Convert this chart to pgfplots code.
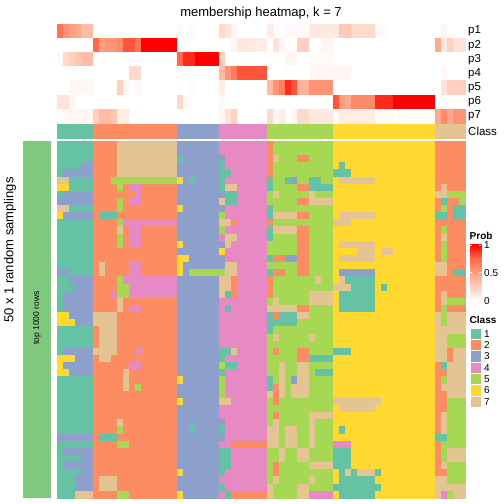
\documentclass[border=0pt]{standalone}
\usepackage{pgfplots}
\pgfplotsset{compat=1.18}
\usepackage{pgfplotstable}
\usepackage{fontspec}
\setmainfont{Liberation Sans}

\definecolor{c1}{RGB}{102,194,165}
\definecolor{c2}{RGB}{252,141,98}
\definecolor{c3}{RGB}{141,160,203}
\definecolor{c4}{RGB}{231,138,195}
\definecolor{c5}{RGB}{166,216,84}
\definecolor{c6}{RGB}{255,217,47}
\definecolor{c7}{RGB}{229,196,148}
\definecolor{rowann}{RGB}{127,201,127}
\definecolor{pq1}{RGB}{255,207,191}
\definecolor{pq2}{RGB}{255,158,129}
\definecolor{pq3}{RGB}{255,105,71}

\pgfdeclareplotmark{cellmain}{\pgfpathrectangle{\pgfpoint{-3pt}{-3.57pt}}{\pgfpoint{6pt}{7.14pt}}\pgfusepathqfillstroke}
\pgfdeclareplotmark{celltop}{\pgfpathrectangle{\pgfpoint{-3pt}{-7.071pt}}{\pgfpoint{6pt}{14.142pt}}\pgfusepathqfillstroke}
\pgfdeclareplotmark{cellcls}{\pgfpathrectangle{\pgfpoint{-3pt}{-7pt}}{\pgfpoint{6pt}{14pt}}\pgfusepathqfillstroke}

% main membership matrix: row index, then 68 sample columns (class 1..7)
\pgfplotstableread[header=false]{
0  1 1 1 1 1 1  2 2 2 2 7 7 7 7 7 7 7 7 7 7  3 3 3 3 3 3 3  4 4 4 4 4 4 4 4  2 5 5 5 5 5 5 5 5 5 5  6 6 6 6 6 6 6 6 6 6 6 6 6 6 6 6 6  2 2 2 2 2
1  1 1 1 1 1 1  2 2 2 2 7 7 7 7 7 7 7 7 7 7  3 3 3 3 3 3 3  4 4 4 4 4 4 4 4  2 5 5 5 5 5 5 5 5 5 5  6 6 6 6 6 6 6 6 6 6 6 6 6 6 6 6 6  2 2 2 2 2
2  1 1 1 1 1 1  2 2 2 2 7 7 7 7 7 7 7 7 7 7  1 3 3 3 3 3 3  3 4 4 4 4 4 4 4  2 7 5 5 5 2 2 5 5 5 5  6 6 6 6 6 6 6 6 6 6 6 6 6 6 6 6 6  2 2 2 2 2
3  1 1 1 1 3 3  2 2 2 2 7 7 7 7 7 7 7 7 7 7  3 3 3 3 3 3 3  1 4 4 4 4 4 4 4  2 5 5 5 5 5 5 5 5 5 5  6 1 6 6 6 6 6 6 6 6 6 6 6 6 6 6 6  2 2 2 2 2
4  1 3 3 3 3 3  2 2 2 2 7 7 7 7 7 7 7 7 7 7  3 3 3 3 3 3 3  1 1 4 4 4 4 4 4  2 5 5 5 5 5 5 5 5 5 5  1 1 1 6 6 6 6 6 6 6 6 6 6 6 6 6 6  2 2 2 2 2
5  7 7 1 1 1 1  2 2 2 5 5 5 5 5 5 5 5 5 5 5  6 3 1 3 3 3 3  1 4 4 4 4 4 4 4  1 5 5 1 3 5 5 1 1 5 5  6 7 7 7 7 7 7 6 6 6 6 6 6 6 6 6 6  2 2 2 2 2
6  6 6 1 1 1 1  2 2 2 2 5 2 4 4 2 2 2 2 2 2  3 3 3 3 3 3 3  1 7 7 4 4 4 4 4  1 5 5 5 5 2 2 1 1 1 1  6 6 6 6 6 6 6 6 6 6 6 6 6 6 6 6 6  2 7 2 2 2
7  1 3 3 3 3 3  2 2 2 2 2 2 2 4 2 2 2 2 2 2  3 3 3 3 3 3 3  3 1 1 4 4 4 4 4  5 7 5 5 5 5 5 7 5 5 5  6 6 6 6 6 6 6 6 6 6 6 6 6 6 6 6 6  7 7 5 5 5
8  3 3 3 3 3 3  2 2 2 2 5 2 4 4 2 2 2 2 2 2  3 3 3 3 3 3 3  7 1 1 4 4 4 4 4  5 5 5 5 5 2 2 7 7 7 7  6 6 6 6 6 6 6 6 6 6 6 6 6 6 6 6 6  2 1 2 2 5
9  7 7 1 1 1 1  2 2 2 2 5 2 2 2 2 2 2 2 2 2  6 3 3 3 3 3 3  3 4 4 4 4 4 4 4  1 5 5 5 5 5 5 5 5 5 5  6 6 6 6 6 6 6 6 6 6 6 6 6 6 6 6 6  2 5 2 1 1
10  6 3 3 3 3 3  2 1 1 1 2 2 2 2 2 2 2 2 2 2  3 3 3 3 3 3 3  5 4 4 4 4 4 4 4  1 7 7 7 7 2 2 5 5 5 5  6 7 7 7 7 7 7 6 6 6 6 6 6 6 6 6 6  1 1 2 1 1
11  1 1 1 1 1 1  2 2 2 2 5 4 4 4 4 4 4 4 4 4  3 3 3 3 3 3 3  7 7 2 4 4 4 4 4  2 5 5 5 5 5 5 5 5 5 5  7 7 7 6 6 6 6 6 6 6 6 6 6 6 6 6 6  2 2 2 2 2
12  1 1 1 1 1 1  2 2 2 2 7 2 4 4 2 2 2 2 2 2  3 3 3 3 3 3 3  5 4 4 4 4 4 4 4  1 7 7 7 7 2 2 5 5 5 5  6 6 6 6 6 6 6 6 6 6 6 6 6 6 6 6 6  2 5 2 2 2
13  1 1 1 1 1 1  2 2 2 2 5 2 4 4 2 2 2 2 2 2  3 3 3 3 3 3 3  4 7 7 4 4 4 4 4  1 5 5 5 5 2 2 5 5 5 5  6 6 6 6 6 6 6 6 6 6 6 6 6 6 6 6 6  2 7 2 2 2
14  1 1 1 1 1 1  2 2 2 2 5 2 4 4 2 2 2 2 2 2  6 3 3 3 3 3 3  3 7 4 4 4 4 4 4  5 5 5 5 5 2 2 5 5 5 5  6 7 7 7 7 7 7 6 6 6 6 6 6 6 6 6 6  2 5 2 2 2
15  1 1 1 1 1 1  2 2 2 2 2 2 2 2 2 2 2 2 2 2  3 3 3 3 3 3 3  6 4 4 4 4 4 4 4  5 5 5 5 5 2 2 5 5 5 5  6 6 6 6 7 7 7 6 7 7 6 6 6 6 6 6 6  2 5 2 2 2
16  1 1 1 1 1 1  2 2 2 2 2 2 2 2 2 2 2 2 2 2  6 6 3 3 3 3 3  3 4 4 4 4 4 4 4  1 2 2 3 3 2 2 5 5 5 5  6 7 7 7 7 7 7 6 6 6 6 6 6 6 6 6 6  2 5 2 2 2
17  1 1 1 1 1 1  2 7 2 2 2 2 4 4 2 2 2 2 2 2  6 3 3 3 3 3 3  3 7 7 4 4 4 4 4  5 5 5 5 5 2 2 5 5 5 5  6 6 6 6 6 6 6 6 6 6 6 6 6 6 6 6 6  7 7 2 2 2
18  3 3 1 1 1 1  2 7 2 2 2 2 4 4 2 2 2 2 2 2  6 3 5 5 5 5 5  5 7 7 4 4 4 4 4  1 2 2 5 5 2 2 5 5 5 5  6 3 3 3 3 3 3 6 6 6 6 6 6 6 6 6 6  7 7 2 1 1
19  1 1 3 3 3 3  2 2 2 2 5 4 4 4 4 4 4 4 4 4  3 3 3 3 3 3 3  7 7 2 4 4 4 4 4  2 5 5 5 5 5 5 5 7 5 5  6 7 1 1 1 1 1 6 6 6 6 6 6 6 6 6 6  2 2 2 2 2
20  1 1 1 3 3 3  2 2 2 2 5 5 4 4 4 4 4 4 4 4  3 3 3 3 3 3 3  7 7 2 4 4 4 4 4  2 5 5 5 5 5 5 5 5 5 5  7 7 7 1 1 1 1 6 1 6 6 6 6 6 6 6 6  2 2 2 2 2
21  1 3 3 3 3 3  2 2 2 4 5 5 4 4 4 4 4 4 4 4  3 3 3 3 3 3 3  7 1 2 4 4 4 4 4  2 5 5 5 5 5 5 7 7 7 7  6 1 1 1 1 1 1 6 6 6 6 6 6 6 6 6 6  2 7 2 2 2
22  1 3 3 3 3 3  2 2 2 2 7 2 2 2 2 2 2 2 2 2  3 3 3 3 3 3 3  4 4 4 4 4 4 4 4  5 7 5 5 5 5 5 7 7 7 7  6 1 1 1 1 1 1 6 6 6 6 6 6 6 6 6 6  2 7 5 5 5
23  1 3 3 3 3 3  2 2 2 2 7 2 4 4 2 2 2 2 2 2  3 3 3 3 3 3 3  4 1 4 4 4 4 4 4  7 7 7 7 7 2 2 5 5 5 5  6 1 1 1 1 1 1 6 6 6 6 6 6 6 6 6 6  2 5 2 2 2
24  6 6 3 3 3 3  7 7 7 7 2 2 2 2 2 2 2 2 2 2  3 3 3 3 3 3 3  4 4 4 4 4 4 4 4  1 2 1 1 1 7 7 5 5 5 5  6 6 6 6 6 6 6 6 6 6 6 6 6 6 6 6 6  7 5 7 7 7
25  6 6 6 3 3 3  7 7 7 7 2 2 2 2 2 2 2 2 2 2  3 3 3 3 3 3 3  4 4 4 4 4 4 4 4  1 1 1 1 1 5 5 5 5 5 5  6 6 6 6 6 6 6 6 6 6 6 6 6 6 6 6 6  7 5 7 7 7
26  1 1 1 1 1 1  2 7 7 7 2 2 2 2 2 2 2 2 2 2  3 3 3 3 3 3 3  4 4 4 4 4 4 4 4  1 5 5 5 5 5 5 5 5 5 5  6 6 6 6 6 6 6 6 6 6 6 6 6 6 6 6 6  7 7 7 7 7
27  1 1 1 1 1 1  2 7 7 7 2 2 2 2 2 2 2 2 2 2  3 3 3 3 3 3 3  4 4 4 4 4 4 4 4  5 7 5 5 5 5 5 7 5 5 5  6 6 6 6 6 6 6 6 6 6 6 6 6 6 6 6 6  7 7 5 5 5
28  1 1 1 1 1 1  2 7 7 7 2 2 2 2 2 2 2 2 2 2  3 3 3 3 3 3 3  4 4 4 4 4 4 4 4  5 5 5 5 5 5 5 5 5 5 5  6 6 6 6 6 6 6 6 6 6 6 6 6 6 6 6 6  7 7 5 5 5
29  1 3 3 3 3 3  7 7 7 7 2 2 2 4 2 2 2 2 2 2  3 3 3 3 3 3 3  1 1 7 4 4 4 4 4  5 2 5 5 5 2 2 5 5 5 5  1 1 1 6 6 6 6 6 6 6 6 6 6 6 6 6 6  7 7 2 7 7
30  6 6 6 3 3 3  2 7 7 2 2 2 2 2 2 2 2 2 2 2  3 3 3 3 3 3 3  1 4 4 4 4 4 4 4  5 5 5 5 5 2 2 1 1 1 1  6 6 6 6 6 6 6 6 6 6 6 6 6 6 6 6 6  7 7 2 7 7
31  6 3 3 3 3 3  2 2 2 2 2 2 4 4 2 2 2 2 2 2  3 3 3 3 3 3 3  5 1 1 4 4 4 4 4  5 5 7 5 5 7 7 5 5 5 5  6 6 6 6 6 6 6 6 6 6 6 6 6 6 6 6 6  2 1 7 7 7
32  6 6 3 3 3 3  2 2 2 2 2 7 2 2 2 2 2 2 2 2  3 3 3 3 3 3 3  1 4 4 4 4 4 4 4  5 5 7 5 5 7 7 5 1 1 1  6 6 6 6 6 6 6 6 6 6 6 6 6 6 6 6 6  2 2 7 7 7
33  1 1 1 1 1 1  2 2 2 2 2 7 2 2 2 2 2 2 2 2  6 3 3 3 3 3 3  5 4 4 4 4 4 4 4  1 5 7 5 3 7 7 5 5 5 5  6 6 6 6 6 6 6 6 6 6 6 6 6 6 6 6 6  2 5 7 7 7
34  1 1 1 1 1 1  2 2 2 2 2 7 2 5 2 2 2 2 2 2  3 3 3 3 3 3 3  5 4 4 4 4 4 4 4  1 2 7 5 7 7 7 5 5 5 5  6 6 6 6 6 6 6 6 6 6 6 6 6 6 6 6 6  2 7 7 7 7
35  1 1 1 1 1 1  2 2 2 2 2 2 2 2 2 2 2 2 2 2  3 3 3 3 3 3 3  5 4 4 4 4 4 4 4  7 2 7 5 7 7 7 5 5 5 5  6 6 6 6 6 6 6 6 6 6 6 6 6 6 6 6 6  2 2 7 7 7
36  1 1 1 1 1 1  2 2 2 2 2 2 2 2 2 2 2 2 2 2  6 3 3 3 3 3 3  7 7 4 4 4 4 4 4  5 2 5 5 5 5 5 5 5 5 5  7 7 7 7 7 7 7 7 6 6 6 6 6 6 6 6 6  2 2 5 5 5
37  1 1 1 1 1 1  2 2 2 2 2 2 2 2 2 2 2 2 2 2  3 3 3 3 3 3 3  4 4 4 4 4 4 4 4  5 5 5 5 5 5 5 5 5 5 5  6 7 7 7 7 7 7 6 6 6 6 6 6 6 6 6 6  2 2 5 5 5
38  1 1 1 1 1 1  2 2 2 2 2 2 2 2 2 2 2 2 2 2  3 3 3 3 3 3 3  4 4 4 4 4 4 4 4  5 2 5 5 5 5 5 7 7 7 7  6 6 6 6 6 6 6 6 6 6 6 6 6 6 6 6 6  2 7 5 5 5
39  1 1 1 1 1 1  2 2 2 2 7 2 2 2 2 2 2 2 2 2  3 3 3 3 3 3 3  3 4 4 4 4 4 4 4  5 7 5 5 5 5 5 7 5 5 5  6 6 6 6 6 6 6 6 6 6 6 6 6 6 6 6 6  2 7 5 5 5
40  1 1 1 1 1 1  2 2 2 2 5 2 2 2 2 2 2 2 2 2  3 3 1 3 3 3 3  1 4 4 4 4 4 4 4  7 7 5 7 7 5 5 7 5 5 5  6 1 6 6 6 6 6 6 6 6 6 6 6 6 6 6 6  2 7 5 5 5
41  3 3 3 3 3 3  2 1 1 1 2 2 2 2 2 2 2 2 2 2  3 3 3 3 3 3 3  3 4 4 4 4 4 4 4  7 7 5 7 7 5 5 7 5 5 5  6 6 6 6 6 6 6 6 6 6 6 6 6 6 6 6 6  1 1 5 5 5
42  1 1 1 1 1 1  2 2 2 2 5 5 2 2 2 2 2 2 2 2  3 3 3 3 3 3 3  4 4 2 2 2 2 2 2  7 7 5 7 7 5 5 7 5 5 5  4 4 4 6 6 6 6 6 6 6 6 6 6 6 6 6 6  2 5 5 5 5
43  1 3 3 3 3 3  2 2 2 2 2 2 2 2 2 2 2 2 2 2  3 3 3 3 3 3 3  1 1 4 4 4 4 4 4  5 5 7 5 5 7 7 5 5 5 5  1 1 1 6 6 6 6 6 6 6 6 6 6 6 6 6 6  2 5 7 7 7
44  1 1 1 1 3 3  2 2 2 2 2 2 2 2 2 2 2 2 2 2  3 3 3 3 3 3 3  1 1 4 4 4 4 4 4  5 5 7 5 5 7 7 5 5 5 5  1 1 1 6 6 6 6 6 6 6 6 6 6 6 6 6 6  2 5 7 7 7
45  1 3 3 3 3 3  2 2 2 2 2 2 2 2 2 2 2 2 2 2  3 3 3 3 3 3 3  1 1 4 4 4 4 4 4  5 2 5 5 5 5 5 7 7 7 7  1 1 1 6 6 6 6 6 6 6 6 6 6 6 6 6 6  2 7 5 5 5
46  1 1 1 1 3 3  2 2 2 2 2 2 2 2 2 2 2 2 2 2  6 3 3 3 3 3 3  1 4 4 4 4 4 4 4  5 2 5 5 5 5 5 5 5 5 5  6 1 7 1 7 7 7 1 6 6 6 6 6 6 6 6 6  2 2 5 5 5
47  1 1 1 3 3 3  2 7 7 7 2 2 2 2 2 2 2 2 2 2  3 3 3 3 3 3 3  4 4 4 4 4 4 4 4  5 7 5 5 5 5 5 7 5 5 5  6 1 1 1 1 1 1 6 6 6 6 6 6 6 6 6 6  7 7 5 5 5
48  1 1 1 3 3 3  2 7 7 7 2 2 2 2 2 2 2 2 2 2  3 3 3 3 3 3 3  1 4 4 4 4 4 4 4  7 5 5 5 5 7 7 5 5 5 5  1 1 1 1 1 1 1 1 6 6 6 6 6 6 6 6 6  7 7 7 7 7
49  1 1 1 7 7 7  2 2 2 2 5 5 2 2 2 2 2 2 2 2  6 3 3 3 3 3 3  4 1 2 2 2 2 2 2  7 5 5 5 5 7 7 4 4 4 4  6 1 1 1 1 1 1 6 6 6 6 6 6 6 6 6 6  7 4 5 7 7
}\mainT

% membership probabilities p1..p7 for the 68 samples
\pgfplotstableread[header=false]{
0  0.7 0.55 0.5 0.45 0.35 0.35  0 0 0 0 0 0 0 0 0 0 0 0 0 0  0.03 0 0.03 0 0 0 0  0.2 0.15 0.05 0 0 0 0 0  0.1 0.03 0 0.03 0.03 0.03 0.03 0.12 0.12 0.12 0.12  0.12 0.28 0.28 0.2 0.2 0.2 0.2 0.03 0.03 0 0 0 0 0 0 0 0  0 0.05 0 0 0
1  0 0 0 0 0 0  0.75 0.5 0.55 0.55 0.6 0.8 0.8 0.7 1 1 1 1 1 1  0 0 0 0 0 0 0  0 0 0.05 0.12 0.12 0.12 0.1 0.1  0 0.15 0.05 0 0 0.25 0.25 0 0 0.05 0.05  0 0 0 0 0 0 0 0 0 0 0 0 0 0 0 0 0  0.45 0.12 0.25 0.15 0.15
2  0.03 0.2 0.25 0.3 0.35 0.35  0 0 0 0 0 0 0 0 0 0 0 0 0 0  0.75 0.9 0.9 1 1 1 1  0.25 0 0 0 0 0 0 0  0 0 0 0.05 0.05 0 0 0.03 0.03 0.03 0.03  0 0 0 0 0 0 0 0 0 0 0 0 0 0 0 0 0  0 0 0 0 0
3  0 0 0 0 0 0  0 0 0 0 0 0 0.2 0.2 0 0 0 0 0 0  0 0 0 0 0 0 0  0.35 0.55 0.65 0.8 0.8 0.8 0.8 0.8  0 0 0 0 0 0 0 0.04 0.04 0.04 0.04  0.05 0.05 0.05 0 0 0 0 0 0 0 0 0 0 0 0 0 0  0 0.04 0 0 0
4  0 0 0.04 0.04 0.04 0.04  0 0 0 0 0.25 0.05 0 0.04 0 0 0 0 0 0  0 0 0.03 0 0 0 0  0.1 0 0 0 0 0 0 0  0.35 0.55 0.65 0.9 0.8 0.4 0.4 0.55 0.55 0.55 0.55  0 0 0 0 0 0 0 0 0 0 0 0 0 0 0 0 0  0 0.15 0.25 0.25 0.25
5  0.15 0.15 0.05 0 0 0  0 0 0 0 0 0 0 0 0 0 0 0 0 0  0.2 0.05 0 0 0 0 0  0.03 0 0 0 0 0 0 0  0 0 0 0 0 0 0 0 0 0 0  0.8 0.5 0.45 0.6 0.6 0.6 0.6 0.9 0.9 0.9 1 1 1 1 1 1 1  0 0 0 0 0
6  0 0.03 0.05 0.05 0.05 0.05  0.25 0.35 0.35 0.3 0.1 0.1 0 0 0 0 0 0 0 0  0 0 0 0 0 0 0  0.05 0.15 0.25 0 0 0 0 0  0.2 0.05 0.1 0 0.05 0.2 0.2 0.12 0.12 0.12 0.12  0.03 0.1 0.1 0.1 0.1 0.1 0.1 0.03 0.03 0.03 0 0 0 0 0 0 0  0.45 0.6 0.45 0.55 0.55
}\probT

% consensus class of each sample
\pgfplotstableread[header=false]{
0  1 1 1 1 1 1  2 2 2 2 2 2 2 2 2 2 2 2 2 2  3 3 3 3 3 3 3  4 4 4 4 4 4 4 4  5 5 5 5 5 5 5 5 5 5 5  6 6 6 6 6 6 6 6 6 6 6 6 6 6 6 6 6  7 7 7 7 7
}\classT

\pgfplotsset{
  classcolors/.style={
    point meta=explicit symbolic,
    scatter/classes={
      1={draw=c1,fill=c1},2={draw=c2,fill=c2},3={draw=c3,fill=c3},
      4={draw=c4,fill=c4},5={draw=c5,fill=c5},6={draw=c6,fill=c6},7={draw=c7,fill=c7}}
  },
  hmaxis/.style={scale only axis, width=408pt, xmin=0.5, xmax=68.5,
    y dir=reverse, hide axis, clip=false}
}

\begin{document}
\begin{tikzpicture}
\useasboundingbox (0pt,0pt) rectangle (504pt,-504pt);

% title
\node[anchor=base, font=\fontsize{13}{15}\selectfont] at (261pt,-16pt) {membership heatmap, k = 7};

% top annotation: probabilities
\begin{axis}[hmaxis, at={(57pt,-24pt)}, anchor=north west, height=99pt,
  ymin=-0.5, ymax=6.5,
  colormap={prob}{rgb255=(255,255,255) rgb255=(255,207,191) rgb255=(255,158,129) rgb255=(255,105,71) rgb255=(255,0,0)},
  point meta min=0, point meta max=1]
\pgfplotsinvokeforeach{1,...,68}{
  \addplot[only marks, scatter, point meta=explicit, mark=celltop,
    scatter/use mapped color={draw=mapped color,fill=mapped color}]
    table[x expr=#1, y index=0, meta index=#1] \probT;
}
\end{axis}

% class annotation row
\begin{axis}[hmaxis, at={(57pt,-124pt)}, anchor=north west, height=14pt,
  ymin=-0.5, ymax=0.5, classcolors]
\pgfplotsinvokeforeach{1,...,68}{
  \addplot[only marks, scatter, mark=cellcls]
    table[x expr=#1, y index=0, meta index=#1] \classT;
}
\end{axis}

% main heatmap
\begin{axis}[hmaxis, at={(57pt,-141pt)}, anchor=north west, height=357pt,
  ymin=-0.5, ymax=49.5, classcolors]
\pgfplotsinvokeforeach{1,...,68}{
  \addplot[only marks, scatter, mark=cellmain]
    table[x expr=#1, y index=0, meta index=#1] \mainT;
}
\end{axis}

% annotation names
\foreach \k [count=\i from 0] in {p1,p2,p3,p4,p5,p6,p7}{
  \node[anchor=west, inner sep=0pt, font=\fontsize{11.5}{13}\selectfont] at (468pt,{-31.07pt-14.142pt*\i}) {\k};
}
\node[anchor=west, inner sep=0pt, font=\fontsize{11.5}{13}\selectfont] at (468pt,-131pt) {Class};

% left row annotation
\fill[rowann] (23pt,-141pt) rectangle (50.5pt,-498pt);
\node[rotate=90, font=\fontsize{8.5}{10}\selectfont] at (37pt,-318pt) {top 1000 rows};
\node[rotate=90, font=\fontsize{13}{15}\selectfont] at (10pt,-250pt) {50 x 1 random samplings};

% legend: Prob
\node[anchor=west, inner sep=0pt, font=\bfseries\fontsize{10}{12}\selectfont] at (469.5pt,-236pt) {Prob};
\shade[bottom color=white, top color=pq1] (470pt,-301pt) rectangle (481.3pt,-286.83pt);
\shade[bottom color=pq1, top color=pq2] (470pt,-286.9pt) rectangle (481.3pt,-272.65pt);
\shade[bottom color=pq2, top color=pq3] (470pt,-272.7pt) rectangle (481.3pt,-258.48pt);
\shade[bottom color=pq3, top color=red] (470pt,-258.5pt) rectangle (481.3pt,-244.3pt);
\foreach \yy in {244.8,272.65}{
  \draw[white, line width=0.6pt] (470pt,-\yy pt) -- (472pt,-\yy pt);
  \draw[white, line width=0.6pt] (479.3pt,-\yy pt) -- (481.3pt,-\yy pt);
}
\node[anchor=west, inner sep=0pt, font=\fontsize{10}{12}\selectfont] at (484pt,-245pt) {1};
\node[anchor=west, inner sep=0pt, font=\fontsize{10}{12}\selectfont] at (484pt,-273pt) {0.5};
\node[anchor=west, inner sep=0pt, font=\fontsize{10}{12}\selectfont] at (484pt,-301pt) {0};

% legend: Class
\node[anchor=west, inner sep=0pt, font=\bfseries\fontsize{10}{12}\selectfont] at (469.5pt,-320pt) {Class};
\foreach \c [count=\i from 0] in {c1,c2,c3,c4,c5,c6,c7}{
  \fill[\c, draw=white, line width=0.6pt] (470pt,{-328.1pt-11.33pt*\i}) rectangle (481.3pt,{-339.4pt-11.33pt*\i});
  \pgfmathtruncatemacro{\lab}{\i+1}
  \node[anchor=west, inner sep=0pt, font=\fontsize{10}{12}\selectfont] at (484pt,{-333.75pt-11.33pt*\i}) {\lab};
}
\end{tikzpicture}
\end{document}
